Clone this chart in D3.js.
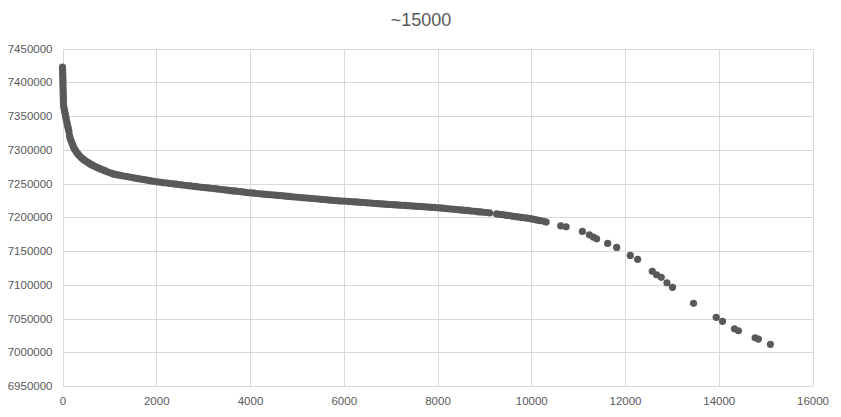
<!DOCTYPE html>
<html>
<head>
<meta charset="utf-8">
<script src="https://cdn.jsdelivr.net/npm/d3@7"></script>
<style>
  html, body { margin: 0; padding: 0; background: #ffffff; }
  svg { display: block; }
</style>
</head>
<body>
<div id="chart"></div>
<script>
// ---- Data ----
const title = "~15000";
const xTicks = [0, 2000, 4000, 6000, 8000, 10000, 12000, 14000, 16000];
const yTicks = [6950000, 7000000, 7050000, 7100000, 7150000, 7200000, 7250000, 7300000, 7350000, 7400000, 7450000];

const xValues = [
  0, 2, 4, 5, 7, 8, 10, 11, 12, 14, 15, 17, 19, 20, 21, 30, 40, 50, 60, 70, 80,
  92, 103, 114, 126, 138, 150, 162, 178, 195, 212, 230, 250, 272, 295, 320, 345,
  372, 400, 430, 460, 495, 530, 565, 600, 640, 680, 720, 760, 800, 845, 890, 935, 980,
  1040, 1120, 1240, 1370, 1490, 1610, 1740, 1860, 1990, 2110, 2240, 2360, 2480,
  2610, 2730, 2860, 2980, 3100, 3230, 3350, 3480, 3600, 3720, 3850, 3970, 4090,
  4220, 4340, 4470, 4590, 4710, 4840, 4960, 5090, 5210, 5330, 5460, 5580, 5700,
  5830, 5950, 6080, 6200, 6320, 6450, 6570, 6690, 6820, 6940, 7070, 7190, 7310,
  7440, 7560, 7680, 7810, 7930, 8060, 8180, 8300, 8430, 8550, 8670, 8800, 8920,
  9050, 9110, 9260, 9380, 9500, 9620, 9740, 9860, 9980, 10080, 10190, 10270, 10318,
  10629, 10744, 11091, 11240, 11325, 11395, 11630, 11822, 12113, 12269, 12582,
  12674, 12774, 12895, 13014, 13462, 13945, 14080, 14335, 14420, 14776, 14846, 15102
];
const yValues = [
  7422500, 7419000, 7415000, 7411000, 7407000, 7403000, 7399000, 7395000, 7391000,
  7387000, 7383000, 7379000, 7375000, 7370500, 7366000, 7362500, 7359000, 7355500, 7352000,
  7348500, 7345000, 7341000, 7337500, 7334000, 7330500, 7327000, 7321000, 7317500,
  7314000, 7311000, 7308000, 7305000, 7302000, 7299500, 7297000, 7294600, 7292400,
  7290300, 7288400, 7286600, 7285000, 7283300, 7281700, 7280100, 7278700, 7277200,
  7275700, 7274400, 7273100, 7271900, 7270600, 7269300, 7268000, 7266700,
  7265300, 7263500, 7262000, 7260300, 7258800, 7257300, 7255800, 7254300, 7252800,
  7251700, 7250600, 7249500, 7248500, 7247400, 7246400, 7245300, 7244400, 7243500,
  7242500, 7241500, 7240500, 7239400, 7238600, 7237500, 7236300, 7235600, 7234800,
  7234000, 7233200, 7232400, 7231700, 7230800, 7230000, 7229200, 7228500, 7227800,
  7227000, 7226300, 7225500, 7224800, 7224100, 7223600, 7223000, 7222400, 7221700,
  7221000, 7220400, 7219800, 7219100, 7218600, 7218000, 7217500, 7216900, 7216200,
  7215700, 7215000, 7214500, 7213800, 7213000, 7212200, 7211400, 7210500, 7209700,
  7208800, 7207900, 7207000, 7206400, 7204900, 7203800, 7202700, 7201500, 7200400,
  7199200, 7198000, 7196600, 7195000, 7193900, 7192800,
  7187341, 7185861, 7179050, 7174016, 7170611, 7168094, 7161283, 7155361, 7143516,
  7137593, 7119826, 7114792, 7110943, 7102947, 7096137, 7072447, 7051719, 7045796,
  7034840, 7031879, 7021514, 7019590, 7011742
];

// further points of the same series inside the dense band
const xValuesDense = [
  1080, 1180, 1300, 1430, 1550, 1670, 1800, 1920, 2050, 2170, 2300, 2420, 2540,
  2670, 2800, 2920, 3040, 3160, 3290, 3410, 3540, 3660, 3790, 3910, 4030, 4150,
  4280, 4400, 4530, 4650, 4770, 4900, 5020, 5150, 5270, 5400, 5520, 5640, 5760,
  5890, 6010, 6140, 6260, 6380, 6510, 6630, 6750, 6880, 7000, 7130, 7250, 7370,
  7500, 7620, 7740, 7870, 8000, 8120, 8240, 8360, 8490, 8610, 8730, 8860, 8980,
  9320, 9440, 9560, 9680, 9800, 9920, 10030, 10130
];
const yValuesDense = [
  7264400, 7262700, 7261100, 7259500, 7258000, 7256600, 7255000, 7253500, 7252200,
  7251100, 7250000, 7249000, 7248000, 7246900, 7245800, 7244800, 7243900, 7243000,
  7242000, 7241000, 7239900, 7239000, 7238000, 7236900, 7236000, 7235200, 7234400,
  7233600, 7232800, 7232000, 7231200, 7230400, 7229600, 7228800, 7228100, 7227400,
  7226600, 7225900, 7225100, 7224400, 7223900, 7223300, 7222700, 7222000, 7221300,
  7220700, 7220100, 7219400, 7218800, 7218300, 7217700, 7217200, 7216500, 7216000,
  7215300, 7214700, 7214100, 7213400, 7212600, 7211800, 7210900, 7210100, 7209200,
  7208300, 7207400,
  7204300, 7203200, 7202100, 7200900, 7199800, 7198600, 7197300, 7195800
];

// ---- Layout ----
const W = 841, H = 417;
const plot = { left: 62.5, right: 812.5, top: 48.5, bottom: 386 };
const textColor = "#595959";
const gridColor = "#d9d9d9";
const dotColor = "#595959";
const font = "'Liberation Sans', Arial, sans-serif";

const svg = d3.select("#chart").append("svg")
  .attr("width", W).attr("height", H);

svg.append("rect").attr("width", W).attr("height", H).attr("fill", "#fff");

const x = d3.scaleLinear().domain([0, 16000]).range([plot.left, plot.right]);
const y = d3.scaleLinear().domain([6950000, 7450000]).range([plot.bottom, plot.top]);

// gridlines
const grid = svg.append("g").attr("shape-rendering", "crispEdges");
grid.selectAll("line.h").data(yTicks).join("line")
  .attr("x1", plot.left).attr("x2", plot.right)
  .attr("y1", d => Math.round(y(d)) + 0.5).attr("y2", d => Math.round(y(d)) + 0.5)
  .attr("stroke", gridColor).attr("stroke-width", 1);
grid.selectAll("line.v").data(xTicks).join("line")
  .attr("y1", plot.top).attr("y2", plot.bottom)
  .attr("x1", d => Math.round(x(d)) + 0.5).attr("x2", d => Math.round(x(d)) + 0.5)
  .attr("stroke", gridColor).attr("stroke-width", 1);

// axes labels via d3 axes
const xAxis = d3.axisBottom(x).tickValues(xTicks).tickSize(0).tickPadding(11).tickFormat(d3.format("d"));
const yAxis = d3.axisLeft(y).tickValues(yTicks).tickSize(0).tickPadding(10).tickFormat(d3.format("d"));

const gx = svg.append("g").attr("transform", `translate(0,${plot.bottom})`).call(xAxis);
const gy = svg.append("g").attr("transform", `translate(${plot.left},0)`).call(yAxis);
[gx, gy].forEach(g => {
  g.select(".domain").remove();
  g.selectAll("text").attr("fill", textColor).style("font-family", font).style("font-size", "11.5px");
});

// points
const points = xValues.map((v, i) => [v, yValues[i]])
  .concat(xValuesDense.map((v, i) => [v, yValuesDense[i]]));

svg.append("g").selectAll("circle")
  .data(points)
  .join("circle")
  .attr("cx", d => x(d[0]))
  .attr("cy", d => y(d[1]))
  .attr("r", 3.6)
  .attr("fill", dotColor);

// title
svg.append("text")
  .attr("x", 421).attr("y", 26)
  .attr("text-anchor", "middle")
  .attr("fill", textColor)
  .style("font-family", font)
  .style("font-size", "18px")
  .text(title);
</script>
</body>
</html>
